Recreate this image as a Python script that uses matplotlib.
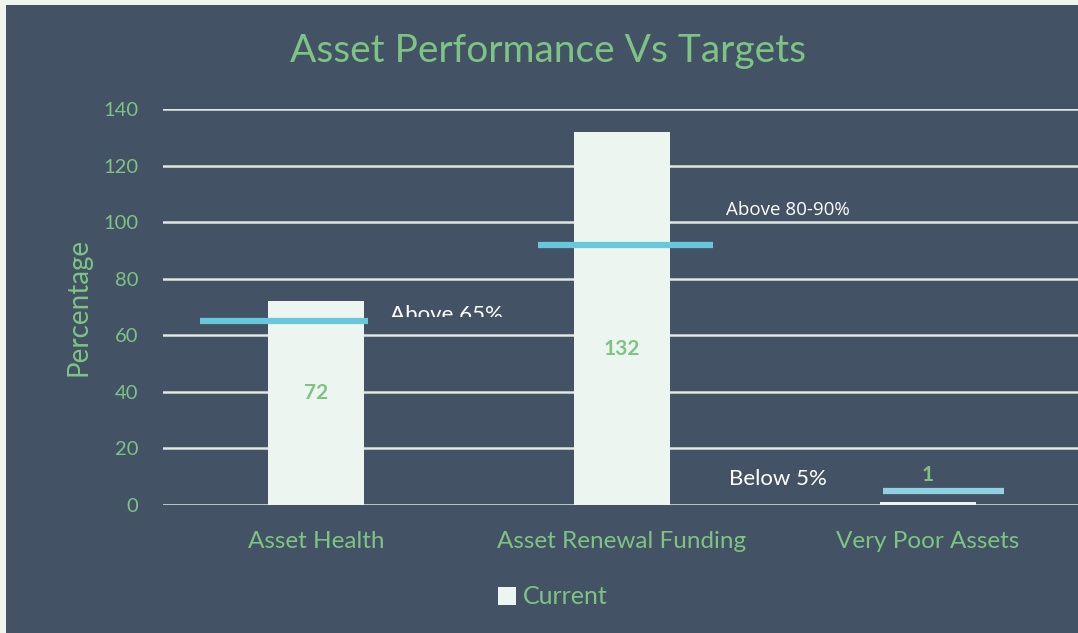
import matplotlib
matplotlib.use("Agg")
import matplotlib.pyplot as plt
from matplotlib.patches import Rectangle, Patch

categories = ["Asset Health", "Asset Renewal Funding", "Very Poor Assets"]
current = [72, 132, 1]
targets = [65, 92, 5]
target_labels = ["Above 65%", "Above 80-90%", "Below 5%"]
yticks = [0, 20, 40, 60, 80, 100, 120, 140]

# layout (positions in category units relative to each bar centre)
target_spans = [(-0.38, 0.17), (-0.275, 0.297), (-0.147, 0.248)]
target_colors = ["#66c8da", "#66c8da", "#8fd3e3"]
label_offsets = [(0.243, 65.0), (0.34, 102.5), (-0.65, 7.0)]
label_fonts = ["Lato", "Open Sans", "Lato"]
label_sizes = [16, 13.5, 16]
value_label_y = [39.5, 55, 10.5]

BG = "#435264"
GREEN = "#7dc484"
BAR = "#ecf5ef"
GRID = "#dfe9de"

fig = plt.figure(figsize=(10.78, 6.33), dpi=100, facecolor="#eef5ee")
bgrect = Rectangle((6/1078, 0), 1, 628/633, transform=fig.transFigure,
                   facecolor=BG, edgecolor="none", zorder=-10)
fig.patches.append(bgrect)

ax = fig.add_axes([163/1078, (633-505)/633, (1081-163)/1078, (505-109)/633])
ax.set_zorder(5)
ax.set_facecolor("none")
x = list(range(len(categories)))
ax.set_xlim(-0.5, 2.5)
ax.set_ylim(0, 140)

for t in yticks:
    ax.axhline(t, color=GRID, lw=1.8, zorder=1)

bars = ax.bar(x, current, width=0.314, color=BAR, zorder=2, label="Current")

for i, (tv, (a, b)) in enumerate(zip(targets, target_spans)):
    ax.plot([x[i] + a, x[i] + b], [tv, tv], color=target_colors[i], lw=4.5,
            solid_capstyle="butt", zorder=3)

for i, lab in enumerate(target_labels):
    dx, yy = label_offsets[i]
    txt = ax.text(x[i] + dx, yy, lab, color="white", fontsize=label_sizes[i],
                  family=label_fonts[i], ha="left", va="baseline", zorder=4)
    if i == 0:
        clip = Rectangle((x[i] + dx - 0.1, 66.6), 1.0, 20, transform=ax.transData,
                         facecolor="none", edgecolor="none")
        ax.add_patch(clip)
        txt.set_clip_path(clip)
        txt.set_clip_on(True)

for i, v in enumerate(current):
    ax.text(x[i], value_label_y[i], str(v), color=GREEN, fontsize=15,
            fontweight="bold", family="Lato", ha="center", va="center", zorder=4)

ax.set_yticks(yticks)
ax.set_yticklabels([str(t) for t in yticks], color=GREEN, fontsize=14.5, family="Lato")
ax.set_xticks(x)
ax.set_xticklabels(categories, color=GREEN, fontsize=17.5, family="Lato")
ax.tick_params(axis="y", length=0, pad=18)
ax.tick_params(axis="x", length=0, pad=19)
for s in ax.spines.values():
    s.set_visible(False)

ax.set_ylabel("Percentage", color=GREEN, fontsize=20, family="Lato", labelpad=8)

fig.text(548/1078, 1 - 51/633, "Asset Performance Vs Targets", color=GREEN,
         fontsize=28, family="Lato", ha="center", va="center", zorder=6)

leg = fig.legend(handles=[Patch(facecolor=BAR, label="Current")],
                 loc="center", bbox_to_anchor=(553/1078, 1 - 597/633),
                 frameon=False, prop={"family": "Lato", "size": 18},
                 handlelength=0.7, handleheight=0.7, handletextpad=0.3)
leg.set_zorder(6)
for t in leg.get_texts():
    t.set_color(GREEN)

fig.savefig("out.png", dpi=100, facecolor=fig.get_facecolor())
